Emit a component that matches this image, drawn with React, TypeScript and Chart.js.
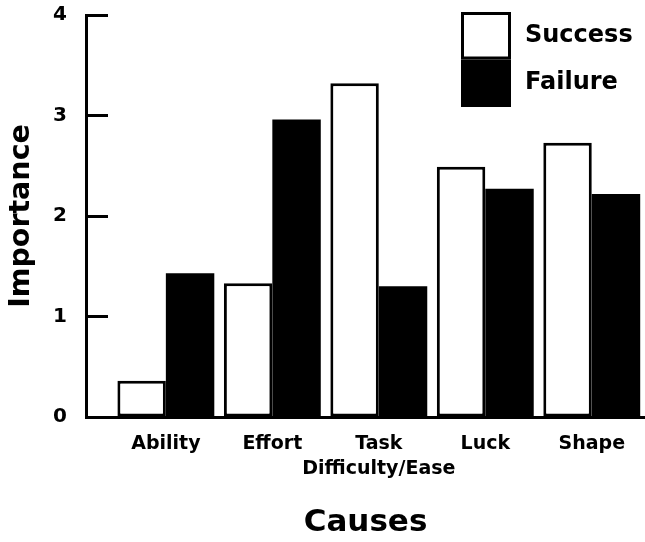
import { useEffect, useRef } from "react";
import { Chart, registerables } from "chart.js";

Chart.register(...registerables);

const categories = ["Ability", "Effort", "Task", "Luck", "Shape"];
const tickLabels: (string | string[])[] = ["Ability", "Effort", ["Task", "Difficulty/Ease"], "Luck", "Shape"];
const seriesNames = ["Success", "Failure"];
const successValues = [0.36, 1.33, 3.32, 2.49, 2.73];
const failureValues = [1.43, 2.96, 1.3, 2.27, 2.22];
const yTicks = [0, 1, 2, 3, 4];

const FONT = "'DejaVu Sans', 'Liberation Sans', Arial, sans-serif";

const boxLegend = {
  id: "boxLegend",
  afterDraw(chart: any, _args: any, opts: any) {
    const ctx = chart.ctx;
    const { right, top } = chart.chartArea;
    const x = right + opts.offsetX;
    let y = top + opts.offsetY;
    const bw = opts.borderWidth;
    ctx.save();
    chart.data.datasets.forEach((ds: any) => {
      ctx.fillStyle = ds.borderColor;
      ctx.fillRect(x, y, opts.boxWidth, opts.rowHeight);
      ctx.fillStyle = ds.backgroundColor;
      ctx.fillRect(x + bw, y + bw, opts.boxWidth - 2 * bw, opts.rowHeight - 2 * bw);
      ctx.fillStyle = "#000";
      ctx.font = `bold ${opts.fontSize}px ${FONT}`;
      ctx.textBaseline = "middle";
      ctx.textAlign = "left";
      ctx.fillText(ds.label, x + opts.boxWidth + opts.gap, y + opts.rowHeight / 2);
      y += opts.rowHeight;
    });
    ctx.restore();
  },
};

export default function App() {
  const ref = useRef<HTMLCanvasElement | null>(null);

  useEffect(() => {
    if (!ref.current) return;
    const chart = new Chart(ref.current, {
      type: "bar",
      data: {
        datasets: [
          {
            label: seriesNames[0],
            data: successValues.map((v, i) => ({ x: i, y: v })),
            backgroundColor: "#ffffff",
            borderColor: "#000000",
            borderWidth: 3,
            borderSkipped: false,
            categoryPercentage: 0.91,
            barPercentage: 1,
          },
          {
            label: seriesNames[1],
            data: failureValues.map((v, i) => ({ x: i, y: v })),
            backgroundColor: "#000000",
            borderColor: "#000000",
            borderWidth: 0,
            categoryPercentage: 0.91,
            barPercentage: 1,
          },
        ],
      } as any,
      plugins: [boxLegend],
      options: {
        animation: false,
        responsive: true,
        maintainAspectRatio: false,
        layout: { padding: { top: 15, right: 0, bottom: 0, left: 0 } },
        plugins: {
          legend: { display: false },
          tooltip: { enabled: false },
          boxLegend: { offsetX: -184, offsetY: -3, boxWidth: 50, rowHeight: 47.5, gap: 14, fontSize: 24, borderWidth: 3 },
        } as any,
        scales: {
          x: {
            type: "linear",
            min: -0.75,
            max: 4.5,
            offset: false,
            bounds: "data",
            grid: { display: false, drawTicks: false, offset: false },
            border: { display: true, color: "#000", width: 3 },
            afterBuildTicks: (s: any) => {
              s.ticks = categories.map((_, i) => ({ value: i }));
            },
            afterFit: (s: any) => {
              s.height = 125;
              s.paddingLeft = 0;
              s.paddingRight = 0;
            },
            ticks: {
              autoSkip: false,
              maxRotation: 0,
              padding: 14,
              color: "#000",
              font: { family: FONT, size: 19, weight: "bold", lineHeight: 1.35 },
              callback: (v: any) => tickLabels[v] ?? "",
            },
            title: {
              display: true,
              text: "Causes",
              color: "#000",
              font: { family: FONT, size: 31, weight: "bold", lineHeight: 1.2 },
              padding: { top: 0, bottom: 0 },
            },
          },
          y: {
            min: 0,
            max: 4,
            grid: { drawOnChartArea: false, drawTicks: true, tickLength: -22, tickWidth: 3, tickColor: "#000" },
            border: { display: true, color: "#000", width: 3 },
            afterBuildTicks: (s: any) => {
              s.ticks = yTicks.map((v) => ({ value: v }));
            },
            afterFit: (s: any) => {
              s.width = 86;
              s.paddingTop = 0;
              s.paddingBottom = 0;
            },
            ticks: {
              padding: 41,
              color: "#000",
              font: { family: FONT, size: 20, weight: "bold" },
            },
            title: {
              display: true,
              text: "Importance",
              color: "#000",
              font: { family: FONT, size: 28.5, weight: "bold", lineHeight: 1.2 },
              padding: { top: 4, bottom: 0 },
            },
          },
        } as any,
      },
    });
    return () => chart.destroy();
  }, []);

  return (
    <div style={{ position: "absolute", left: 0, top: 0, width: 645, height: 542, background: "#fff" }}>
      <canvas ref={ref} />
    </div>
  );
}
